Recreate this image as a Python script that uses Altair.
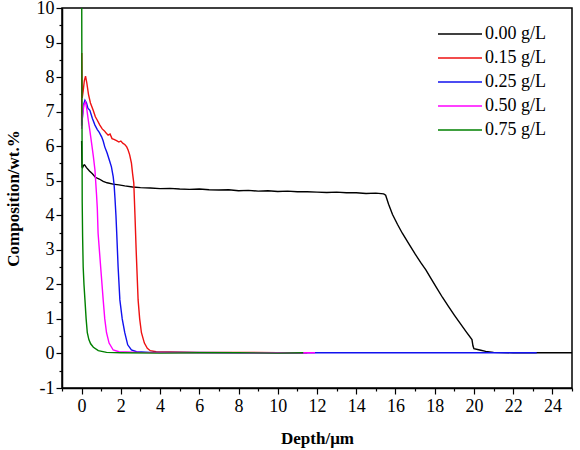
import altair as alt
import pandas as pd

# Series names and their line colours
series_names = ["0.00 g/L", "0.15 g/L", "0.25 g/L", "0.50 g/L", "0.75 g/L"]
series_colors = ["#000000", "#ee1111", "#1111ee", "#ff00ff", "#008000"]

# 0.00 g/L
depth_000 = [0.0, 0.02, 0.05, 0.1, 0.15, 0.25, 0.4, 0.55, 0.7, 0.9, 1.1, 1.3, 1.6,
             1.9, 2.2, 2.6, 3.0, 3.5, 4.0, 4.5, 5.0, 5.5, 6.0, 6.5, 7.0, 7.5, 8.0,
             8.5, 9.0, 9.5, 10.0, 10.5, 11.0, 11.5, 12.0, 12.5, 13.0, 13.5, 14.0,
             14.5, 15.0, 15.4, 15.5, 15.65, 15.85, 16.1, 16.35, 16.7, 17.0, 17.3,
             17.55, 17.8, 18.1, 18.4, 18.7, 19.0, 19.3, 19.6, 19.9, 19.95, 20.0,
             20.3, 20.6, 21.0, 22.0, 23.0, 24.0, 25.0]
comp_000 = [6.15, 5.4, 5.38, 5.45, 5.46, 5.38, 5.28, 5.2, 5.1, 5.05, 4.98, 4.94, 4.9,
            4.88, 4.85, 4.82, 4.8, 4.79, 4.77, 4.78, 4.76, 4.75, 4.76, 4.74, 4.73,
            4.74, 4.71, 4.72, 4.7, 4.71, 4.69, 4.7, 4.68, 4.68, 4.67, 4.66, 4.67,
            4.65, 4.65, 4.63, 4.64, 4.62, 4.58, 4.32, 4.02, 3.74, 3.48, 3.16, 2.88,
            2.62, 2.42, 2.18, 1.9, 1.62, 1.36, 1.11, 0.87, 0.63, 0.4, 0.22, 0.14,
            0.1, 0.06, 0.03, 0.02, 0.02, 0.02, 0.02]

# 0.15 g/L
depth_015 = [0.0, 0.01, 0.03, 0.08, 0.14, 0.2, 0.26, 0.35, 0.45, 0.59, 0.7, 0.8, 0.93,
             1.05, 1.15, 1.25, 1.35, 1.45, 1.55, 1.65, 1.78, 1.9, 2.0, 2.11, 2.2,
             2.3, 2.37, 2.45, 2.54, 2.6, 2.66, 2.72, 2.78, 2.88, 2.96, 3.05, 3.2,
             3.35, 3.5, 3.8, 4.5, 6.0, 8.0, 10.0, 11.5]
comp_015 = [6.6, 8.7, 7.4, 7.6, 7.9, 8.03, 7.85, 7.5, 7.25, 7.04, 6.85, 6.75, 6.61,
            6.5, 6.45, 6.38, 6.32, 6.35, 6.22, 6.2, 6.16, 6.12, 6.15, 6.08, 6.05,
            5.98, 5.89, 5.75, 5.51, 5.2, 4.93, 4.0, 3.0, 1.55, 1.0, 0.6, 0.3,
            0.15, 0.08, 0.05, 0.04, 0.03, 0.03, 0.02, 0.02]

# 0.25 g/L
depth_025 = [0.0, 0.05, 0.1, 0.17, 0.25, 0.32, 0.42, 0.55, 0.68, 0.8, 0.9, 1.02, 1.1,
             1.18, 1.3, 1.44, 1.52, 1.61, 1.66, 1.7, 1.75, 1.79, 1.86, 1.95, 2.07,
             2.2, 2.35, 2.54, 2.8, 3.5, 5.0, 8.0, 12.0, 16.0, 20.0, 23.2]
comp_025 = [6.6, 6.9, 7.2, 7.33, 7.25, 7.1, 7.04, 6.8, 6.61, 6.48, 6.4, 6.27, 6.15,
            5.98, 5.8, 5.55, 5.4, 5.12, 4.85, 4.5, 4.0, 3.48, 2.51, 1.55, 1.0,
            0.6, 0.25, 0.1, 0.05, 0.03, 0.03, 0.02, 0.02, 0.02, 0.02, 0.02]

# 0.50 g/L
depth_050 = [0.0, 0.05, 0.12, 0.2, 0.27, 0.34, 0.42, 0.51, 0.6, 0.68, 0.76, 0.8, 0.84,
             0.97, 1.1, 1.18, 1.27, 1.4, 1.61, 1.9, 3.0, 6.0, 9.0, 11.9]
comp_050 = [6.5, 6.9, 7.2, 7.28, 7.05, 6.75, 6.45, 6.08, 5.7, 5.31, 4.6, 4.2, 3.48,
            2.51, 1.55, 1.0, 0.6, 0.3, 0.1, 0.05, 0.03, 0.02, 0.02, 0.02]

# 0.75 g/L
depth_075 = [0.0, 0.01, 0.03, 0.05, 0.08, 0.12, 0.17, 0.23, 0.29, 0.37, 0.46, 0.6,
             0.85, 1.27, 2.0, 4.0, 6.0, 8.0, 10.0, 11.3]
comp_075 = [12.0, 9.0, 4.4, 3.4, 2.5, 2.0, 1.55, 1.0, 0.6, 0.4, 0.28, 0.18,
            0.08, 0.03, 0.02, 0.01, 0.02, 0.02, 0.01, 0.02]

# Axis tick positions (majors labelled, minors unlabelled)
x_ticks = list(range(-1, 26))
y_ticks = [v / 2 for v in range(-2, 21)]

all_depths = [depth_000, depth_015, depth_025, depth_050, depth_075]
all_comps = [comp_000, comp_015, comp_025, comp_050, comp_075]

rows = []
for name, depths, comps in zip(series_names, all_depths, all_comps):
    for i, (d, c) in enumerate(zip(depths, comps)):
        rows.append({"series": name, "depth": d, "comp": c, "idx": i})
df = pd.DataFrame(rows)

serif = "Times New Roman, Liberation Serif, serif"

chart = alt.Chart(df).mark_line(strokeWidth=1.4, clip=True).encode(
    x=alt.X(
        "depth:Q",
        scale=alt.Scale(domain=[-1, 25], nice=False, zero=False),
        axis=alt.Axis(
            title="Depth/μm",
            values=x_ticks,
            labelExpr="datum.value % 2 == 0 ? toString(datum.value) : ''",
            tickSize={"condition": {"test": "datum.value % 2 != 0", "value": 3}, "value": 6},
            labelOverlap=False,
            labelFlush=False,
            labelPadding=3,
            titlePadding=15,
            grid=False,
        ),
    ),
    y=alt.Y(
        "comp:Q",
        scale=alt.Scale(domain=[-1, 10], nice=False, zero=False),
        axis=alt.Axis(
            title="Composition/wt.%",
            values=y_ticks,
            labelExpr="datum.value % 1 == 0 ? toString(datum.value) : ''",
            tickSize={"condition": {"test": "datum.value % 1 != 0", "value": 3}, "value": 6},
            labelOverlap=False,
            labelFlush=False,
            labelPadding=2,
            titlePadding=14,
            grid=False,
        ),
    ),
    color=alt.Color(
        "series:N",
        scale=alt.Scale(domain=series_names, range=series_colors),
        legend=alt.Legend(
            title=None,
            orient="none",
            legendX=389,
            legendY=17,
            padding=0,
            symbolType="M-4,0H4",
            symbolSize=121,
            symbolStrokeWidth=1.4,
            labelOffset=16,
            rowPadding=6,
            labelFont=serif,
            labelFontSize=18,
            labelColor="black",
        ),
    ),
    order="idx:Q",
).properties(
    width=510,
    height=380,
    autosize=alt.AutoSizeParams(type="none"),
    padding={"left": 62, "top": 8, "right": 8, "bottom": 62},
).configure_view(
    stroke="black",
    strokeWidth=1.5,
).configure_axis(
    domainColor="black",
    domainWidth=1.5,
    tickColor="black",
    tickWidth=1.2,
    labelFont=serif,
    labelFontSize=18,
    labelColor="black",
    titleFont=serif,
    titleFontSize=17,
    titleFontWeight="bold",
    titleColor="black",
)

chart.save("out.html", embed_options={"renderer": "svg", "actions": False})
